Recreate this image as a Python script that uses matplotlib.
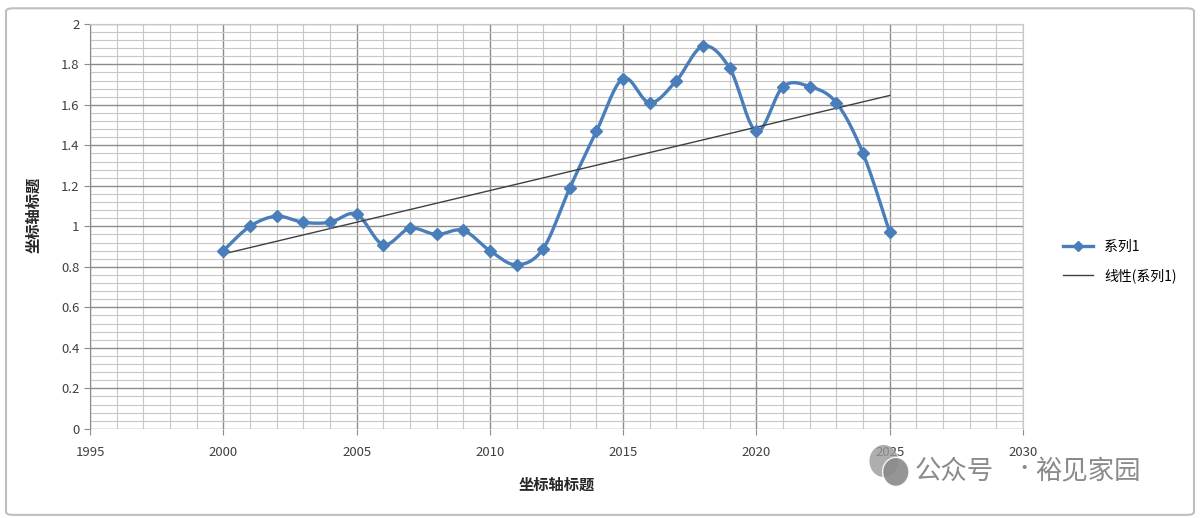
import numpy as np
import matplotlib
matplotlib.use("Agg")
import matplotlib.pyplot as plt
from matplotlib.patches import FancyBboxPatch, Ellipse
from matplotlib.lines import Line2D

plt.rcParams['font.family'] = ['Noto Sans CJK SC', 'DejaVu Sans']

years = [2000, 2001, 2002, 2003, 2004, 2005, 2006, 2007, 2008, 2009, 2010, 2011, 2012,
         2013, 2014, 2015, 2016, 2017, 2018, 2019, 2020, 2021, 2022, 2023, 2024, 2025]
values = [0.88, 1.00, 1.05, 1.02, 1.02, 1.06, 0.91, 0.99, 0.96, 0.98, 0.88, 0.81, 0.89,
          1.19, 1.47, 1.73, 1.61, 1.72, 1.89, 1.78, 1.47, 1.69, 1.69, 1.61, 1.36, 0.97]
series_name = "系列1"
trend_name = "线性(系列1)"
x_title = "坐标轴标题"
y_title = "坐标轴标题"
x_ticks = [1995, 2000, 2005, 2010, 2015, 2020, 2025, 2030]
y_ticks = [0, 0.2, 0.4, 0.6, 0.8, 1, 1.2, 1.4, 1.6, 1.8, 2]
y_tick_labels = ["0", "0.2", "0.4", "0.6", "0.8", "1", "1.2", "1.4", "1.6", "1.8", "2"]

line_color = "#4a7ebb"

fig = plt.figure(figsize=(12, 5.18), dpi=100)
frame = FancyBboxPatch((0.005, 0.006), 0.99, 0.978, boxstyle="round,pad=0,rounding_size=0.006",
                       transform=fig.transFigure, facecolor="white", edgecolor="#bfbfbf",
                       linewidth=1.5, zorder=-10)
fig.patches.append(frame)

ax = fig.add_axes([0.075, 0.172, 0.7775, 0.782])
ax.set_xlim(1995, 2030)
ax.set_ylim(0, 2)

ax.set_xticks(x_ticks)
ax.set_xticks(np.arange(1995, 2031, 1), minor=True)
ax.set_yticks(y_ticks)
ax.set_yticklabels(y_tick_labels)
ax.set_yticks(np.arange(0, 2.001, 0.04), minor=True)
ax.grid(which="major", color="#8c8c8c", linewidth=1.0)
ax.grid(which="minor", color="#c8c8c8", linewidth=0.8)
ax.set_axisbelow(True)
for s in ["top", "right"]:
    ax.spines[s].set_color("#c8c8c8")
ax.spines["left"].set_color("#8c8c8c")
ax.spines["bottom"].set_visible(False)
ax.tick_params(which="major", length=4, color="#8c8c8c", labelsize=9.5, labelcolor="#404040")
ax.tick_params(which="minor", length=0)
ax.tick_params(axis="x", pad=8)

# smoothed curve (Excel-like Bezier through the points)
xs = np.array(years, dtype=float)
ys = np.array(values, dtype=float)
px = np.concatenate([[xs[0]], xs, [xs[-1]]])
py = np.concatenate([[ys[0]], ys, [ys[-1]]])
cx, cy = [], []
t = np.linspace(0, 1, 30)
for i in range(1, len(px) - 2):
    p0 = np.array([px[i], py[i]])
    p3 = np.array([px[i + 1], py[i + 1]])
    c1 = p0 + (np.array([px[i + 1], py[i + 1]]) - np.array([px[i - 1], py[i - 1]])) / 6
    c2 = p3 - (np.array([px[i + 2], py[i + 2]]) - np.array([px[i], py[i]])) / 6
    b = ((1 - t) ** 3)[:, None] * p0 + (3 * (1 - t) ** 2 * t)[:, None] * c1 + \
        (3 * (1 - t) * t ** 2)[:, None] * c2 + (t ** 3)[:, None] * p3
    cx.extend(b[:, 0]); cy.extend(b[:, 1])
ax.plot(cx, cy, color=line_color, linewidth=2.4, solid_capstyle="round", zorder=3)
ax.plot(xs, ys, linestyle="none", marker="D", markersize=6, color=line_color, zorder=4)

# linear trendline
k, b0 = np.polyfit(xs, ys, 1)
ax.plot([xs[0], xs[-1]], [k * xs[0] + b0, k * xs[-1] + b0], color="#404040", linewidth=1.0, zorder=3)

ax.set_xlabel(x_title, fontsize=11, fontweight="bold", color="#262626", labelpad=13)
ax.set_ylabel(y_title, fontsize=11, fontweight="bold", color="#262626")
ax.yaxis.set_label_coords(-0.0526, 0.528)

handles = [Line2D([0], [0], color=line_color, linewidth=2.4, marker="D", markersize=5),
           Line2D([0], [0], color="#404040", linewidth=1.0)]
fig.legend(handles, [series_name, trend_name], loc="center left", bbox_to_anchor=(0.875, 0.495),
           frameon=False, fontsize=10, handlelength=2.2, labelspacing=1.0)

# watermark
fig.patches.append(Ellipse((0.7365, 0.110), 0.024, 0.062, transform=fig.transFigure,
                           facecolor="#9a9a9a", edgecolor="none", alpha=0.8, zorder=5))
fig.patches.append(Ellipse((0.7465, 0.089), 0.022, 0.056, transform=fig.transFigure,
                           facecolor="#8a8a8a", edgecolor="white", linewidth=1, alpha=0.9, zorder=6))
fig.text(0.7625, 0.09, "公众号", fontsize=19, color="#8a8a8a", ha="left", va="center")
fig.text(0.853, 0.095, "·", fontsize=14, color="#8a8a8a", ha="center", va="center")
fig.text(0.8625, 0.09, "裕见家园", fontsize=19, color="#8a8a8a", ha="left", va="center")

fig.savefig("out.png", dpi=100)
